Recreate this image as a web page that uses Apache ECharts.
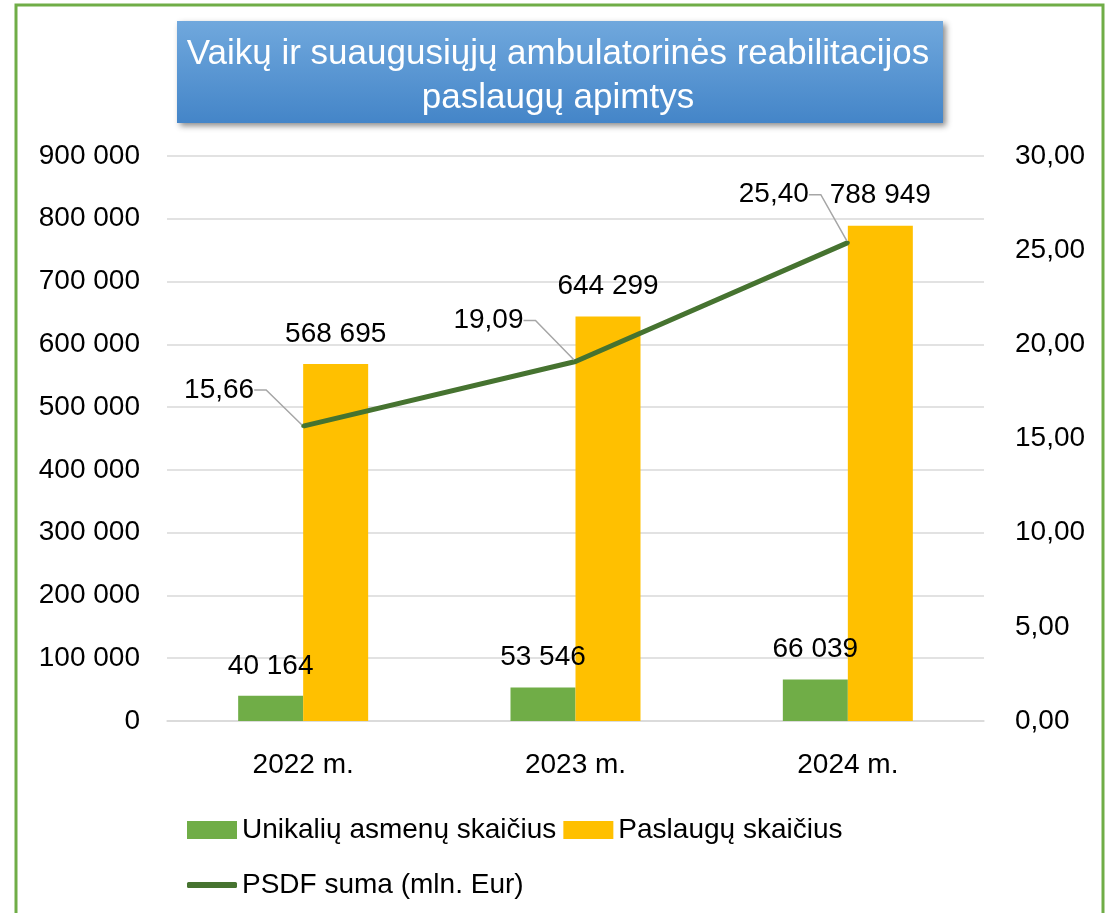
<!DOCTYPE html>
<html>
<head>
<meta charset="utf-8">
<script src="https://cdn.jsdelivr.net/npm/echarts@6/dist/echarts.min.js"></script>
<style>
  html, body { margin: 0; padding: 0; background: #fff; }
  #main { width: 1116px; height: 913px; }
</style>
</head>
<body>
<div id="main"></div>
<script>
const years = ['2022 m.', '2023 m.', '2024 m.']
const persons = [40164, 53546, 66039]
const services = [568695, 644299, 788949]
const psdf = [15.66, 19.09, 25.40]

const FONT = 'Liberation Sans'
const chart = echarts.init(document.getElementById('main'))

function spaced(v) {
    return String(v).replace(/\B(?=(\d{3})+(?!\d))/g, ' ')
}
function comma(v) {
    return Number(v).toFixed(2).replace('.', ',')
}

// leader-label offsets for the line labels
const lineLabelShift = [
    { dx: -43, dy: -36 },
    { dx: -46, dy: -41 },
    { dx: -33, dy: -48 }
]

chart.setOption({
    textStyle: { fontFamily: FONT },
    graphic: [
        {
            type: 'rect',
            shape: { x: 16, y: 5, width: 1087, height: 940 },
            style: { fill: 'none', stroke: '#70ad47', lineWidth: 3 },
            z: 0
        },
        {
            type: 'rect',
            shape: { x: 177, y: 21, width: 766, height: 102 },
            style: {
                fill: new echarts.graphic.LinearGradient(0, 0, 0, 1, [
                    { offset: 0, color: '#70a8dd' },
                    { offset: 1, color: '#4485c8' }
                ]),
                shadowBlur: 6,
                shadowOffsetX: 3,
                shadowOffsetY: 3,
                shadowColor: 'rgba(0,0,0,0.45)'
            },
            z: 1
        }
    ],
    title: {
        text: 'Vaikų ir suaugusiųjų ambulatorinės reabilitacijos\npaslaugų apimtys',
        left: 'center',
        top: 32,
        padding: 0,
        z: 10,
        textStyle: {
            color: '#ffffff',
            fontSize: 35,
            fontWeight: 'normal',
            lineHeight: 44,
            fontFamily: FONT
        }
    },
    legend: [
        {
            data: ['Unikalių asmenų skaičius', 'Paslaugų skaičius'],
            left: 182,
            top: 811,
            itemWidth: 50,
            itemHeight: 18,
            itemGap: 7,
            icon: 'rect',
            textStyle: { fontSize: 28, color: '#000', fontFamily: FONT }
        },
        {
            data: [{ name: 'PSDF suma (mln. Eur)', icon: 'roundRect' }],
            left: 182,
            top: 866,
            itemWidth: 50,
            itemHeight: 6,
            textStyle: { fontSize: 28, color: '#000', fontFamily: FONT }
        }
    ],
    grid: {
        left: 167,
        right: 132,
        top: 156,
        bottom: 192,
        containLabel: false
    },
    xAxis: {
        type: 'category',
        data: years,
        axisLine: { lineStyle: { color: '#d9d9d9', width: 1.5 } },
        axisTick: { show: false },
        axisLabel: { fontSize: 28, color: '#000', margin: 30, fontFamily: FONT }
    },
    yAxis: [
        {
            type: 'value',
            min: 0,
            max: 900000,
            interval: 100000,
            axisLine: { show: false },
            axisTick: { show: false },
            splitLine: { lineStyle: { color: '#d9d9d9', width: 1.5 } },
            axisLabel: { fontSize: 28, color: '#000', margin: 27, formatter: spaced, fontFamily: FONT }
        },
        {
            type: 'value',
            min: 0,
            max: 30,
            interval: 5,
            axisLine: { show: false },
            axisTick: { show: false },
            splitLine: { show: false },
            axisLabel: { fontSize: 28, color: '#000', margin: 31, formatter: comma, fontFamily: FONT }
        }
    ],
    series: [
        {
            name: 'Unikalių asmenų skaičius',
            type: 'bar',
            data: persons,
            barWidth: 65,
            barGap: '0%',
            itemStyle: { color: '#70ad47' },
            label: {
                show: true,
                position: 'top',
                distance: 16,
                fontSize: 28,
                color: '#000',
                fontFamily: FONT,
                formatter: p => spaced(p.value)
            }
        },
        {
            name: 'Paslaugų skaičius',
            type: 'bar',
            data: services,
            barWidth: 65,
            barGap: '0%',
            itemStyle: { color: '#ffc000' },
            label: {
                show: true,
                position: 'top',
                distance: 16,
                fontSize: 28,
                color: '#000',
                fontFamily: FONT,
                formatter: p => spaced(p.value)
            }
        },
        {
            name: 'PSDF suma (mln. Eur)',
            type: 'line',
            yAxisIndex: 1,
            data: psdf,
            symbol: 'circle',
            symbolSize: 4,
            itemStyle: { color: '#467330' },
            lineStyle: { color: '#467330', width: 5 },
            z: 5,
            label: {
                show: true,
                position: 'left',
                distance: 0,
                padding: [0, 4, 0, 0],
                fontSize: 28,
                color: '#000',
                fontFamily: FONT,
                formatter: p => comma(p.value)
            },
            labelLine: {
                show: true,
                length2: 12,
                lineStyle: { color: '#a6a6a6', width: 1.5 }
            },
            labelLayout: p => lineLabelShift[p.dataIndex]
        }
    ]
})
</script>
</body>
</html>
